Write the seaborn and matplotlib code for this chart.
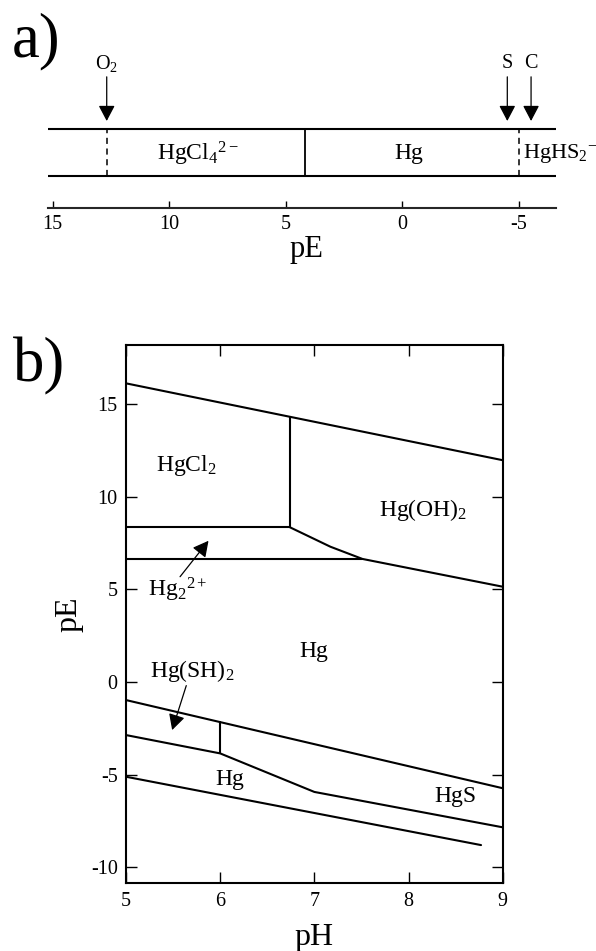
import numpy as np
import pandas as pd
import matplotlib
matplotlib.use("Agg")
import matplotlib.pyplot as plt
import seaborn as sns

# ---- panel a: pE scale (one-dimensional) ----
a_ticks = [15, 10, 5, 0, -5]
a_limits = (15.2, -6.6)
a_dashed = [12.68, -5.0]          # O2 limit, sulfide limit
a_solid = [4.17]                  # HgCl4(2-) / Hg boundary
a_arrow_names = ["O$_2$", "S", "C"]
a_arrow_pE = [12.68, -4.51, -5.53]
a_species = [r"HgCl$_4{}^{2-}$", "Hg", r"HgHS$_2{}^{-}$"]
a_species_pE = [8.76, -0.27, -5.19]
a_species_ha = ["center", "center", "left"]
a_species_size = [17, 17, 16]

# ---- panel b: pE-pH diagram ----
b_xticks = [5, 6, 7, 8, 9]
b_yticks = [15, 10, 5, 0, -5, -10]
b_xlim = (5, 9)
b_ylim = (-10.82, 18.2)

boundaries = {
    "upper": ([5, 9], [16.13, 11.98]),
    "cl_oh": ([6.74, 6.74], [14.3, 8.36]),
    "hgcl2_low": ([5, 6.74], [8.36, 8.36]),
    "oh_low": ([6.74, 7.17, 7.51, 9], [8.36, 7.31, 6.65, 5.15]),
    "hg22_low": ([5, 7.51], [6.65, 6.65]),
    "sulf_up": ([5, 9], [-0.97, -5.73]),
    "sh_vert": ([6, 6], [-2.16, -3.85]),
    "sulf_mid": ([5, 6, 7, 9], [-2.86, -3.85, -5.93, -7.84]),
    "sulf_low": ([5, 8.77], [-5.11, -8.80]),
}

b_labels = ["HgCl$_2$", "Hg(OH)$_2$", "Hg", r"Hg$_2{}^{2+}$", "Hg(SH)$_2$", "Hg", "HgS"]
b_label_pH = [5.64, 8.15, 6.99, 5.23, 5.70, 6.10, 8.50]
b_label_pE = [11.72, 9.30, 1.64, 4.97, 0.62, -5.25, -6.19]
b_label_ha = ["center", "center", "center", "left", "center", "center", "center"]

b_arrow_tail = [(5.574, 5.69), (5.64, -0.19)]
b_arrow_tip = [(5.876, 7.63), (5.49, -2.59)]

sns.set_theme(style="ticks")
plt.rcParams["font.family"] = ["Liberation Serif", "DejaVu Serif"]
plt.rcParams["mathtext.fontset"] = "custom"
plt.rcParams["mathtext.rm"] = "Liberation Serif"
plt.rcParams["mathtext.it"] = "Liberation Serif:italic"
plt.rcParams["mathtext.default"] = "regular"
plt.rcParams["text.color"] = "black"
plt.rcParams["axes.labelcolor"] = "black"

W, H = 596, 951
fig = plt.figure(figsize=(W / 100, H / 100), dpi=100)

def frac(x0, y0, x1, y1):
    return [x0 / W, 1 - y1 / H, (x1 - x0) / W, (y1 - y0) / H]

arrow_style = "-|>,head_length=0.95,head_width=0.5"

# ---------------- panel a ----------------
ax_a = fig.add_axes(frac(48, 50, 556, 208))
ax_a.set_xlim(*a_limits)
ax_a.set_ylim(-0.681, 2.681)
for side in ["top", "left", "right"]:
    ax_a.spines[side].set_visible(False)
ax_a.spines["bottom"].set_linewidth(1.5)
ax_a.set_yticks([])
ax_a.set_xticks(a_ticks)
ax_a.set_xticklabels([str(t) for t in a_ticks])
ax_a.tick_params(axis="x", direction="in", length=5, width=1, pad=5, labelsize=14.5, colors="black")
ax_a.set_xlabel("pE", fontsize=22)
ax_a.xaxis.set_label_coords(0.508, -0.17)
ax_a.patch.set_alpha(0)

ax_a.axhline(0, color="black", lw=1.5)
ax_a.axhline(1, color="black", lw=1.5)
ax_a.vlines(a_dashed, 0, 1, colors="black", lw=1.1, linestyles=(0, (4, 3)))
ax_a.vlines(a_solid, 0, 1, colors="black", lw=1.3)

for name, pe in zip(a_arrow_names, a_arrow_pE):
    ax_a.annotate("", xy=(pe, 1.17), xytext=(pe, 2.11),
                  arrowprops=dict(arrowstyle=arrow_style, color="black", lw=0.9,
                                  shrinkA=0, shrinkB=0, mutation_scale=10))
    ax_a.text(pe, 2.40, name, ha="center", va="center", fontsize=14.5)

for name, pe, ha, fs in zip(a_species, a_species_pE, a_species_ha, a_species_size):
    ax_a.text(pe, 0.47, name, ha=ha, va="center", fontsize=fs, clip_on=False)

fig.text(12 / W, 1 - 12 / H, "a)", fontsize=45, ha="left", va="top")

# ---------------- panel b ----------------
ax_b = fig.add_axes(frac(126, 345, 502.7, 882.5))
rows = []
for key, (xs, ys) in boundaries.items():
    for x, y in zip(xs, ys):
        rows.append({"boundary": key, "pH": x, "pE": y})
df = pd.DataFrame(rows)
sns.lineplot(data=df, x="pH", y="pE", units="boundary", estimator=None, sort=False,
             color="black", lw=1.5, ax=ax_b)

ax_b.set_xlim(*b_xlim)
ax_b.set_ylim(*b_ylim)
ax_b.set_xticks(b_xticks)
ax_b.set_yticks(b_yticks)
ax_b.set_xticklabels([str(t) for t in b_xticks])
ax_b.set_yticklabels([str(t) for t in b_yticks])
for sp in ax_b.spines.values():
    sp.set_visible(True)
    sp.set_linewidth(1.5)
    sp.set_color("black")
ax_b.tick_params(direction="in", length=8, width=1, labelsize=14.5, colors="black",
                 top=True, right=True)
ax_b.tick_params(axis="x", pad=7)
ax_b.tick_params(axis="y", pad=6)
ax_b.set_xlabel("pH", fontsize=23)
ax_b.set_ylabel("pE", fontsize=23)
ax_b.xaxis.set_label_coords(0.5, -0.075)
ax_b.yaxis.set_label_coords(-0.114, 0.5)

for name, x, y, ha in zip(b_labels, b_label_pH, b_label_pE, b_label_ha):
    ax_b.text(x, y, name, ha=ha, va="center", fontsize=17)

for tail, tip in zip(b_arrow_tail, b_arrow_tip):
    ax_b.annotate("", xy=tip, xytext=tail,
                  arrowprops=dict(arrowstyle=arrow_style, color="black", lw=0.9,
                                  shrinkA=0, shrinkB=0, mutation_scale=10))

fig.text(13 / W, 1 - 337 / H, "b)", fontsize=45, ha="left", va="top")

fig.savefig("out.png", dpi=100)
